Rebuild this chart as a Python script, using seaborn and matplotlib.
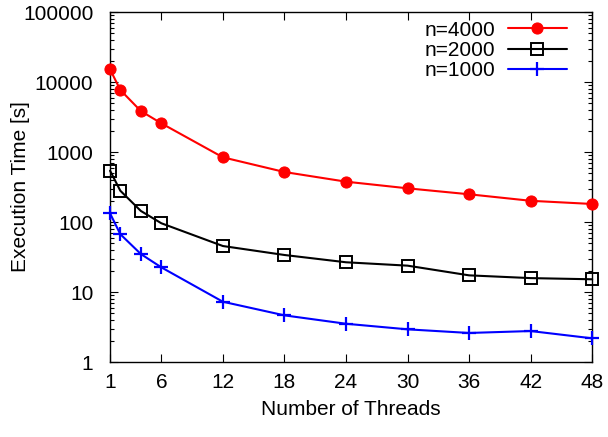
import matplotlib
matplotlib.use("Agg")
import matplotlib.pyplot as plt
import matplotlib.ticker as mticker
import numpy as np
import pandas as pd
import seaborn as sns

threads = [1, 2, 4, 6, 12, 18, 24, 30, 36, 42, 48]
time_n4000 = [15200, 7700, 3850, 2570, 840, 518, 377, 303, 249, 201, 181]
time_n2000 = [541, 280, 144, 96, 45.4, 33.8, 26.6, 23.8, 17.3, 15.8, 15.2]
time_n1000 = [133, 67, 34.9, 22.5, 7.26, 4.64, 3.52, 2.93, 2.6, 2.77, 2.18]
xticks = [1, 6, 12, 18, 24, 30, 36, 42, 48]

df = pd.DataFrame({
    "threads": threads * 3,
    "time": time_n4000 + time_n2000 + time_n1000,
    "series": ["n=4000"] * 11 + ["n=2000"] * 11 + ["n=1000"] * 11,
})

sns.set_style("ticks")
plt.rcParams["font.family"] = ["Liberation Sans", "DejaVu Sans"]
for key in ["text.color", "axes.labelcolor", "xtick.color", "ytick.color"]:
    plt.rcParams[key] = "black"
FS = 15

fig, ax = plt.subplots(figsize=(6.08, 4.37), dpi=100)
fig.subplots_adjust(left=0.181, right=0.974, top=0.9725, bottom=0.1716)

styles = {
    "n=4000": dict(color="#ff0000", marker="o", markersize=8, markerfacecolor="#ff0000",
                   markeredgecolor="#ff0000"),
    "n=2000": dict(color="black", marker="s", markersize=9, markerfacecolor="none",
                   markeredgecolor="black", markeredgewidth=1.4),
    "n=1000": dict(color="#0000ff", marker="+", markersize=10, markeredgewidth=1.6,
                   markeredgecolor="#0000ff"),
}

for name in ["n=4000", "n=2000", "n=1000"]:
    sub = df[df["series"] == name]
    sns.lineplot(data=sub, x="threads", y="time", ax=ax, label=name,
                 linewidth=1.5, clip_on=False, zorder=3, **styles[name])

ax.set_yscale("log")
ax.set_xlim(1, 48)
ax.set_ylim(1, 100000)
ax.set_xticks(xticks)
ax.xaxis.set_major_formatter(mticker.FuncFormatter(lambda v, p: f"{int(v)}"))
ax.yaxis.set_major_locator(mticker.LogLocator(base=10, numticks=10))
ax.yaxis.set_major_formatter(mticker.FuncFormatter(lambda v, p: f"{int(round(v))}"))
ax.yaxis.set_minor_locator(mticker.LogLocator(base=10, subs=np.arange(2, 10), numticks=20))
ax.yaxis.set_minor_formatter(mticker.NullFormatter())

ax.tick_params(axis="both", which="major", direction="in", length=6, width=0.8,
               top=True, right=True, labelsize=FS, colors="black")
ax.tick_params(axis="y", which="major", pad=12)
ax.tick_params(axis="x", which="major", pad=8)
ax.tick_params(axis="y", which="minor", direction="in", length=3, width=0.8, right=True)
ax.tick_params(axis="x", which="minor", bottom=False, top=False)
for sp in ax.spines.values():
    sp.set_visible(True)
    sp.set_linewidth(1.0)
    sp.set_color("black")

ax.set_xlabel("Number of Threads", fontsize=FS, labelpad=6, color="black")
ax.set_ylabel("Execution Time [s]", fontsize=FS, color="black")
ax.yaxis.set_label_coords(-0.166, 0.5)

leg = ax.legend(loc="upper right", bbox_to_anchor=(0.948, 0.975), frameon=False,
                markerfirst=False, fontsize=FS, handlelength=2.85, handletextpad=0.6,
                borderaxespad=0, borderpad=0, labelspacing=0.05)
for t in leg.get_texts():
    t.set_color("black")

fig.savefig("out.png", dpi=100)
